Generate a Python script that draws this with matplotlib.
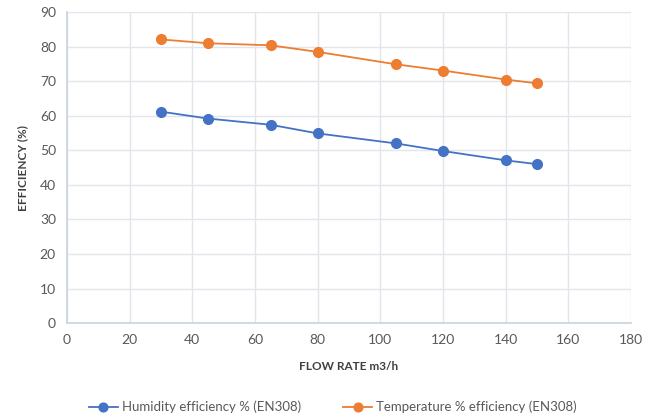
import matplotlib
matplotlib.use("Agg")
import matplotlib.pyplot as plt

# andmed graafikult loetud
vooluhulk = [30, 45, 65, 80, 105, 120, 140, 150]
niiskus = [61.2, 59.2, 57.4, 54.9, 52.0, 49.8, 47.1, 46.0]
temperatuur = [82.1, 81.0, 80.4, 78.5, 74.9, 73.1, 70.5, 69.4]

plt.rcParams['font.family'] = ['Lato', 'DejaVu Sans']

fig = plt.figure(figsize=(6.46, 4.19), dpi=100)
ax = fig.add_axes([0.1037, 0.229, 0.873, 0.742])

ax.plot(vooluhulk, niiskus, color="#4472C4", marker="o", markersize=7, linewidth=1.3,
        label="Humidity efficiency % (EN308)")
ax.plot(vooluhulk, temperatuur, color="#ED7D31", marker="o", markersize=7, linewidth=1.3,
        label="Temperature % efficiency (EN308)")

ax.set_xlim(0, 180)
ax.set_ylim(0, 90)
ax.set_xticks(range(0, 181, 20))
ax.set_yticks(range(0, 91, 10))
ax.grid(True, color="#E1E5EC", linewidth=1)
ax.set_axisbelow(True)
for s in ["top", "right"]:
    ax.spines[s].set_visible(False)
for s in ["left", "bottom"]:
    ax.spines[s].set_color("#CCD3DD")
    ax.spines[s].set_linewidth(1.2)
ax.tick_params(length=0, labelsize=10, colors="#595959", pad=8)

ax.set_xlabel("FLOW RATE m3/h", fontsize=8.5, fontweight="bold", color="#404040", labelpad=11)
ax.set_ylabel("EFFICIENCY (%)", fontsize=8.5, fontweight="bold", color="#404040", labelpad=8)

fig.legend(loc="lower center", bbox_to_anchor=(0.515, -0.015), ncol=2, frameon=False,
           fontsize=9.5, labelcolor="#595959", handlelength=2.2, handletextpad=0.3,
           columnspacing=3.2, markerscale=0.9)

fig.savefig("out.png", dpi=100)
